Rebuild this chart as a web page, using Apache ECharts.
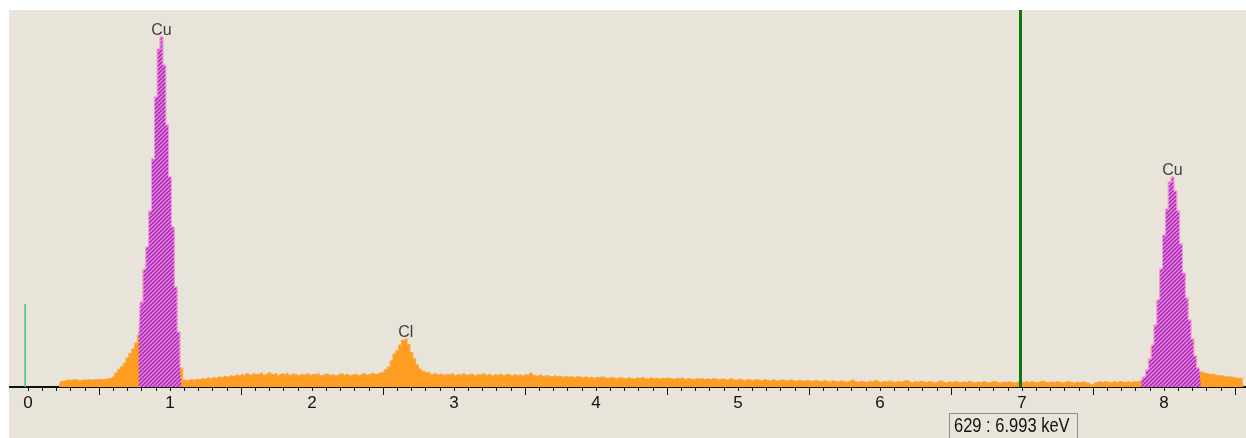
<!DOCTYPE html>
<html>
<head>
<meta charset="utf-8">
<title>EDS spectrum</title>
<script src="https://cdn.jsdelivr.net/npm/echarts@6/dist/echarts.min.js"></script>
<style>
  html, body { margin: 0; padding: 0; background: #ffffff; }
  #chart { width: 1246px; height: 438px; }
</style>
</head>
<body>
<div id="chart"></div>
<script>
// Spectrum channels: first channel energy and channel width (keV)
const energyStart = 0.22;
const channelWidth = 0.02;

// Counts per channel, 0.22 keV .. 8.56 keV
const counts = [
  20, 58, 66, 72,
  68, 75, 70, 64, 71, 69, 73, 70, 76, 72,
  78, 74, 80, 83, 92, 108, 140, 175, 205, 240,
  290, 335, 380, 440, 520, 850, 1180, 1400, 1760, 2280,
  2900, 3380, 3500, 3220, 2620, 2100, 1600, 1000, 550, 190,
  70, 62, 76, 68, 80, 72, 86, 78, 92, 84,
  96, 88, 104, 94, 110, 98, 116, 104, 122, 112,
  126, 110, 132, 118, 138, 122, 130, 144, 120, 136,
  148, 124, 140, 118, 134, 126, 142, 120, 132, 124,
  114, 130, 120, 136, 116, 128, 122, 138, 112, 126,
  132, 116, 126, 110, 124, 134, 118, 128, 112, 122,
  130, 114, 124, 136, 118, 128, 140, 122, 134, 146,
  150, 172, 200, 262, 330, 362, 420, 470, 482, 425,
  345, 282, 222, 180, 158, 140, 150, 126, 138, 120,
  132, 116, 128, 122, 134, 114, 126, 120, 136, 118,
  124, 132, 112, 126, 120, 134, 116, 128, 110, 124,
  118, 130, 114, 122, 128, 110, 126, 116, 122, 112,
  126, 114, 140, 118, 108, 122, 104, 116, 110, 100,
  114, 102, 110, 96, 108, 98, 106, 94, 104, 100,
  92, 104, 90, 100, 88, 98, 94, 102, 90, 86,
  98, 90, 84, 96, 88, 82, 94, 86, 80, 92,
  86, 96, 84, 80, 94, 82, 90, 78, 88, 84,
  92, 84, 78, 88, 82, 92, 76, 86, 80, 74,
  86, 78, 88, 76, 84, 72, 86, 78, 72, 82,
  78, 70, 84, 74, 68, 80, 72, 66, 78, 70,
  66, 78, 70, 64, 76, 68, 62, 74, 66, 62,
  74, 66, 60, 72, 64, 58, 70, 62, 58, 68,
  62, 56, 70, 60, 54, 66, 58, 52, 64, 56,
  52, 64, 56, 50, 60, 72, 54, 48, 60, 52,
  48, 60, 52, 68, 56, 46, 58, 50, 62, 52,
  46, 58, 50, 60, 68, 52, 44, 56, 48, 60,
  52, 44, 56, 48, 40, 54, 62, 50, 42, 54,
  46, 58, 50, 42, 54, 46, 58, 48, 40, 52,
  44, 56, 48, 40, 52, 60, 46, 40, 52, 44,
  54, 46, 40, 50, 58, 44, 54, 46, 56, 48,
  42, 54, 60, 48, 42, 52, 46, 56, 48, 40,
  50, 58, 46, 40, 50, 44, 54, 46, 40, 26,
  22, 44, 54, 46, 56, 48, 42, 54, 46, 56,
  50, 44, 54, 46, 56, 50, 58, 60, 100, 170,
  280, 420, 620, 870, 1180, 1520, 1780, 2050, 2100, 1960,
  1760, 1430, 1140, 890, 670, 480, 310, 190, 150, 140,
  132, 125, 128, 118, 112, 115, 106, 100, 103, 94,
  92, 86, 90, 84
];

// Integration windows (keV) drawn hatched
const roiWindows = [[0.78, 1.08], [7.84, 8.26]];

// Identified lines
const peakNames = ['Cu', 'Cl', 'Cu'];
const peakEnergies = [0.94, 2.66, 8.06];

// Axis tick positions (keV)
const tickLabels = [0, 1, 2, 3, 4, 5, 6, 7, 8];
const halfTicks = [0.5, 1.5, 2.5, 3.5, 4.5, 5.5, 6.5, 7.5, 8.5];

// Cursor readout
const cursorEnergy = 6.993;
const cursorCounts = 629;

// Zero-energy strobe marker [keV, counts]
const zeroMarker = [-0.02, 830];

const spectrum = counts.map((c, i) => [+(energyStart + i * channelWidth).toFixed(2), c]);
const countAt = e => counts[Math.round((e - energyStart) / channelWidth)];

// 0.1 keV minor ticks, skipping the half-keV positions
const minorTicks = [];
for (let k = 0; k <= 85; k++) {
  if (k % 10 !== 5) minorTicks.push(k / 10);
}

// Hatch pattern for the integration windows
function hatchPattern() {
  const c = document.createElement('canvas');
  c.width = 4; c.height = 4;
  const g = c.getContext('2d');
  g.fillStyle = '#ec84ec';
  g.fillRect(0, 0, 4, 4);
  g.strokeStyle = '#a028a6';
  g.lineWidth = 1.4;
  g.beginPath();
  g.moveTo(-1, 1); g.lineTo(1, -1);
  g.moveTo(0, 4); g.lineTo(4, 0);
  g.moveTo(3, 5); g.lineTo(5, 3);
  g.stroke();
  return c;
}
const hatch = hatchPattern();

const X0 = -0.1338, X1 = 8.5775;

const roiSeries = roiWindows.map(([a, b]) => ({
  type: 'line',
  step: 'middle',
  showSymbol: false,
  silent: true,
  z: 3,
  data: spectrum.filter(p => p[0] >= a - 1e-6 && p[0] <= b + 1e-6),
  lineStyle: { color: '#f29af2', width: 1 },
  areaStyle: { color: { image: hatch, repeat: 'repeat' }, opacity: 1 }
}));

const chart = echarts.init(document.getElementById('chart'), null, { renderer: 'canvas' });

chart.setOption({
  animation: false,
  backgroundColor: '#e8e4da',
  grid: { left: 9, right: 0, top: 10, bottom: 51, containLabel: false },
  xAxis: [
    {
      type: 'value', min: X0, max: X1, position: 'bottom',
      axisLine: { show: true, onZero: false, lineStyle: { color: '#111', width: 2 } },
      axisTick: { show: true, customValues: minorTicks, length: 4, lineStyle: { color: '#111', width: 1 } },
      axisLabel: {
        show: true, customValues: tickLabels, margin: 8,
        color: '#111', fontSize: 17, fontFamily: 'Liberation Sans'
      },
      splitLine: { show: false }
    },
    {
      type: 'value', min: X0, max: X1, position: 'bottom', offset: 0,
      axisLine: { show: false, onZero: false },
      axisTick: { show: true, customValues: halfTicks, length: 8, lineStyle: { color: '#111', width: 1 } },
      axisLabel: { show: false },
      splitLine: { show: false }
    }
  ],
  yAxis: { type: 'value', min: 0, max: 3770, show: false, splitLine: { show: false } },
  series: [
    {
      type: 'line',
      step: 'middle',
      showSymbol: false,
      silent: true,
      z: 2,
      data: spectrum,
      lineStyle: { color: '#ffa83e', width: 1 },
      areaStyle: { color: '#ff9c22', opacity: 1 },
      markLine: {
        silent: true,
        symbol: ['none', 'none'],
        label: { show: false },
        lineStyle: { color: '#0e780e', width: 3, type: 'solid' },
        data: [{ xAxis: cursorEnergy }],
        z: 6
      }
    },
    ...roiSeries,
    {
      type: 'line',
      showSymbol: false,
      silent: true,
      z: 4,
      data: [[zeroMarker[0], 0], zeroMarker],
      lineStyle: { color: '#3fc08a', width: 1.5 }
    },
    {
      type: 'scatter',
      symbolSize: 0,
      silent: true,
      z: 5,
      data: peakNames.map((n, i) => ({ value: [peakEnergies[i], countAt(peakEnergies[i])], name: n })),
      label: {
        show: true, position: 'top', distance: -2,
        formatter: p => p.name,
        color: '#111', fontSize: 16, fontFamily: 'Liberation Sans'
      }
    }
  ],
  graphic: [
    { type: 'rect', silent: true, z: 100, shape: { x: 0, y: 0, width: 1246, height: 10 }, style: { fill: '#ffffff' } },
    { type: 'rect', silent: true, z: 100, shape: { x: 0, y: 0, width: 9, height: 438 }, style: { fill: '#ffffff' } },
    {
      type: 'rect', silent: true, z: 50,
      shape: { x: 949.5, y: 413.5, width: 128, height: 30 },
      style: { fill: '#e8e4da', stroke: '#8c8c8c', lineWidth: 1 }
    },
    {
      type: 'text', silent: true, z: 51,
      x: 954, y: 416, scaleY: 1.22,
      style: {
        text: cursorCounts + ' : ' + cursorEnergy.toFixed(3) + ' keV',
        font: '16.5px "Liberation Sans"', fill: '#111'
      }
    }
  ]
});
</script>
</body>
</html>
